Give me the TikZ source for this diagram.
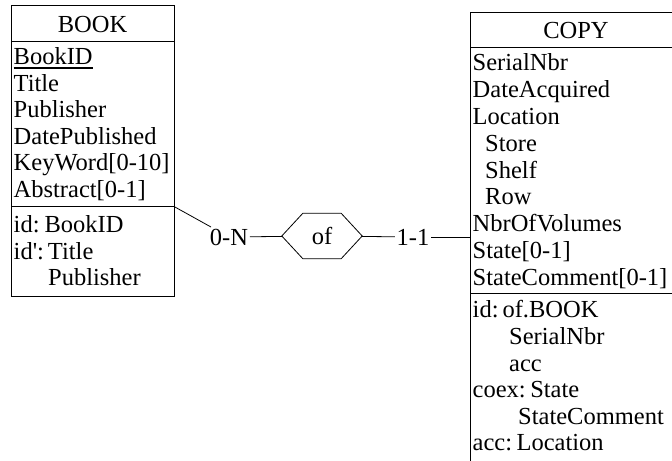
\documentclass[tikz,border=0pt]{standalone}
\usepackage{fontspec}
\setmainfont{Liberation Serif}
\usetikzlibrary{calc}
\tikzset{
  attr/.style={anchor=base west, inner sep=0pt},
  ttl/.style={anchor=base, inner sep=0pt},
  box/.style={line width=0.8bp},
  card/.style={inner sep=1.5bp},
}

\begin{document}
\begin{tikzpicture}[x=1bp, y=-1bp, font=\fontsize{24.5bp}{26.5bp}\selectfont]
	%%%%% START %%%%%
	\useasboundingbox (0,0) rectangle (672,461);
	\clip (0,0) rectangle (672,461);
	
	% BOOK
	\draw[box] (11,5) rectangle (174,296.5);
	\draw[box] (11,41.5) -- (174,41.5);
	\draw[box] (11,206.5) -- (174,206.5);
	\coordinate (bookcorner) at (174,206.5);
	\node[ttl] (booktitle) at (92.5,33) {BOOK};
	\node[attr] (bookid) at (13.5,65) {BookID};
	\draw[line width=2bp] ([yshift=-3bp]bookid.base west) -- ([yshift=-3bp]bookid.base east);
	\node[attr] (title) at (13.5,91.5) {Title};
	\node[attr] (publisher) at (13.5,118) {Publisher};
	\node[attr] (datepub) at (13.5,144.5) {DatePublished};
	\node[attr] (keyword) at (13.5,171) {KeyWord[0-10]};
	\node[attr] (abstract) at (13.5,197.5) {Abstract[0-1]};
	\node[attr] (bookidkey) at (13.5,233) {id:\hspace{5bp}BookID};
	\node[attr] (bookidtwo) at (13.5,259.5) {id\textquotesingle:\hspace{4bp}Title};
	\node[attr] (bookidpub) at (48,286) {Publisher};
	
	% COPY
	\draw[box] (470,12) rectangle (682,480);
	\draw[box] (470,47) -- (682,47);
	\draw[box] (470,293) -- (682,293);
	\coordinate (copyleft) at (470,237);
	\node[ttl] (copytitle) at (576,38.5) {COPY};
	\node[attr] (serial) at (472.5,71) {SerialNbr};
	\node[attr] (dateacq) at (472.5,97.8) {DateAcquired};
	\node[attr] (location) at (472.5,124.6) {Location};
	\node[attr] (store) at (485,151.4) {Store};
	\node[attr] (shelf) at (485,178.2) {Shelf};
	\node[attr] (row) at (485,205) {Row};
	\node[attr] (volumes) at (472.5,231.8) {NbrOfVolumes};
	\node[attr] (state) at (472.5,258.6) {State[0-1]};
	\node[attr] (statecomment) at (472.5,285.4) {StateComment[0-1]};
	\node[attr] (copyidkey) at (472.5,318) {id:\hspace{4bp}of.BOOK};
	\node[attr] (copyidserial) at (509,344.5) {SerialNbr};
	\node[attr] (copyidacc) at (509,371) {acc};
	\node[attr] (coex) at (472.5,397.5) {coex:\hspace{4.5bp}State};
	\node[attr] (coexcomment) at (518,424) {StateComment};
	\node[attr] (acc) at (472.5,450.5) {acc:\hspace{4.5bp}Location};
	
	% of
	\node[minimum width=80bp, minimum height=45bp, inner sep=0pt] (of) at (322,236) {of};
	\draw[box] (of.west) -- ([xshift=21bp]of.north west) -- ([xshift=-21bp]of.north east)
		-- (of.east) -- ([xshift=-21bp]of.south east) -- ([xshift=21bp]of.south west) -- cycle;
	\node[card] (cardbook) at (229,237) {0-N};
	\node[card] (cardcopy) at (413,237) {1-1};
	\draw[box] (bookcorner) -- (cardbook);
	\draw[box] (cardbook) -- (of);
	\draw[box] (of) -- (cardcopy);
	\draw[box] (cardcopy) -- (copyleft);
	
	%%%%% END %%%%%
\end{tikzpicture}
\end{document}
